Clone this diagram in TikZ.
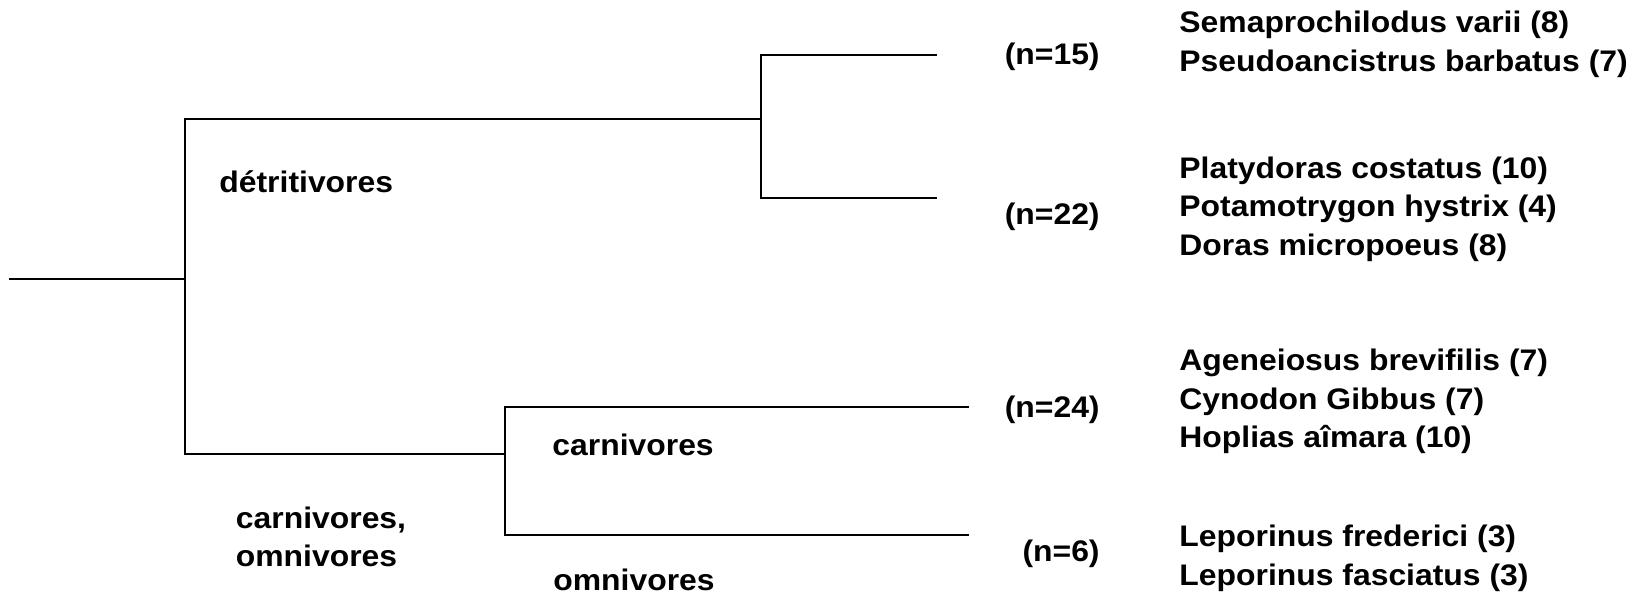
\documentclass[tikz,border=0pt]{standalone}
\usepackage{fontspec}
\setmainfont{Liberation Sans}[FakeStretch=1.072]
\begin{document}
\begin{tikzpicture}[x=0.5pt,y=-0.5pt,
  branch/.style={line width=0.85pt, line join=miter},
  lab/.style={inner sep=0pt, font=\fontsize{14.875}{19.35}\selectfont\bfseries},
  taxa/.style={lab, anchor=base west},
  count/.style={lab, anchor=base east},
]
\useasboundingbox (0,0) rectangle (1641,594);

% tree junctions and leaf ends
\coordinate (root) at (9,279);
\coordinate (n0)   at (185,279);
\coordinate (n0t)  at (185,119);
\coordinate (n0b)  at (185,454);
\coordinate (n1)   at (761,119);
\coordinate (n1t)  at (761,54.7);
\coordinate (n1b)  at (761,197.8);
\coordinate (l1)   at (936.7,54.7);
\coordinate (l2)   at (936.7,197.8);
\coordinate (n2)   at (505,454);
\coordinate (n2t)  at (505,407);
\coordinate (n2b)  at (505,535);
\coordinate (l3)   at (969,407);
\coordinate (l4)   at (969,535);

% branches
\draw[branch] (root) -- (n0);
\draw[branch] (n1) -- (n0t) -- (n0b) -- (n2);
\draw[branch] (l1) -- (n1t) -- (n1b) -- (l2);
\draw[branch] (l3) -- (n2t) -- (n2b) -- (l4);

% clade labels
\node[taxa] (det) at (219,192) {détritivores};
\node[taxa] (carom) at (235.5,528) {\begin{tabular}[t]{@{}l@{}}carnivores,\\omnivores\end{tabular}};
\node[taxa] (carn) at (552,455) {carnivores};
\node[taxa] (omni) at (553,590.5) {omnivores};

% sample sizes
\node[count] (c1) at (1100,64)    {(n=15)};
\node[count] (c2) at (1100,224.5) {(n=22)};
\node[count] (c3) at (1100,417)   {(n=24)};
\node[count] (c4) at (1100,561.5) {(n=6)};

% species lists
\node[taxa] (s1) at (1179,32.3) {\begin{tabular}[t]{@{}l@{}}Semaprochilodus varii (8)\\Pseudoancistrus barbatus (7)\end{tabular}};
\node[taxa] (s2) at (1179,178) {\begin{tabular}[t]{@{}l@{}}Platydoras costatus (10)\\Potamotrygon hystrix (4)\\Doras micropoeus (8)\end{tabular}};
\node[taxa] (s3) at (1179,370.5) {\begin{tabular}[t]{@{}l@{}}Ageneiosus brevifilis (7)\\Cynodon Gibbus (7)\\Hoplias aîmara (10)\end{tabular}};
\node[taxa] (s4) at (1179,546.3) {\begin{tabular}[t]{@{}l@{}}Leporinus frederici (3)\\Leporinus fasciatus (3)\end{tabular}};
\end{tikzpicture}
\end{document}
